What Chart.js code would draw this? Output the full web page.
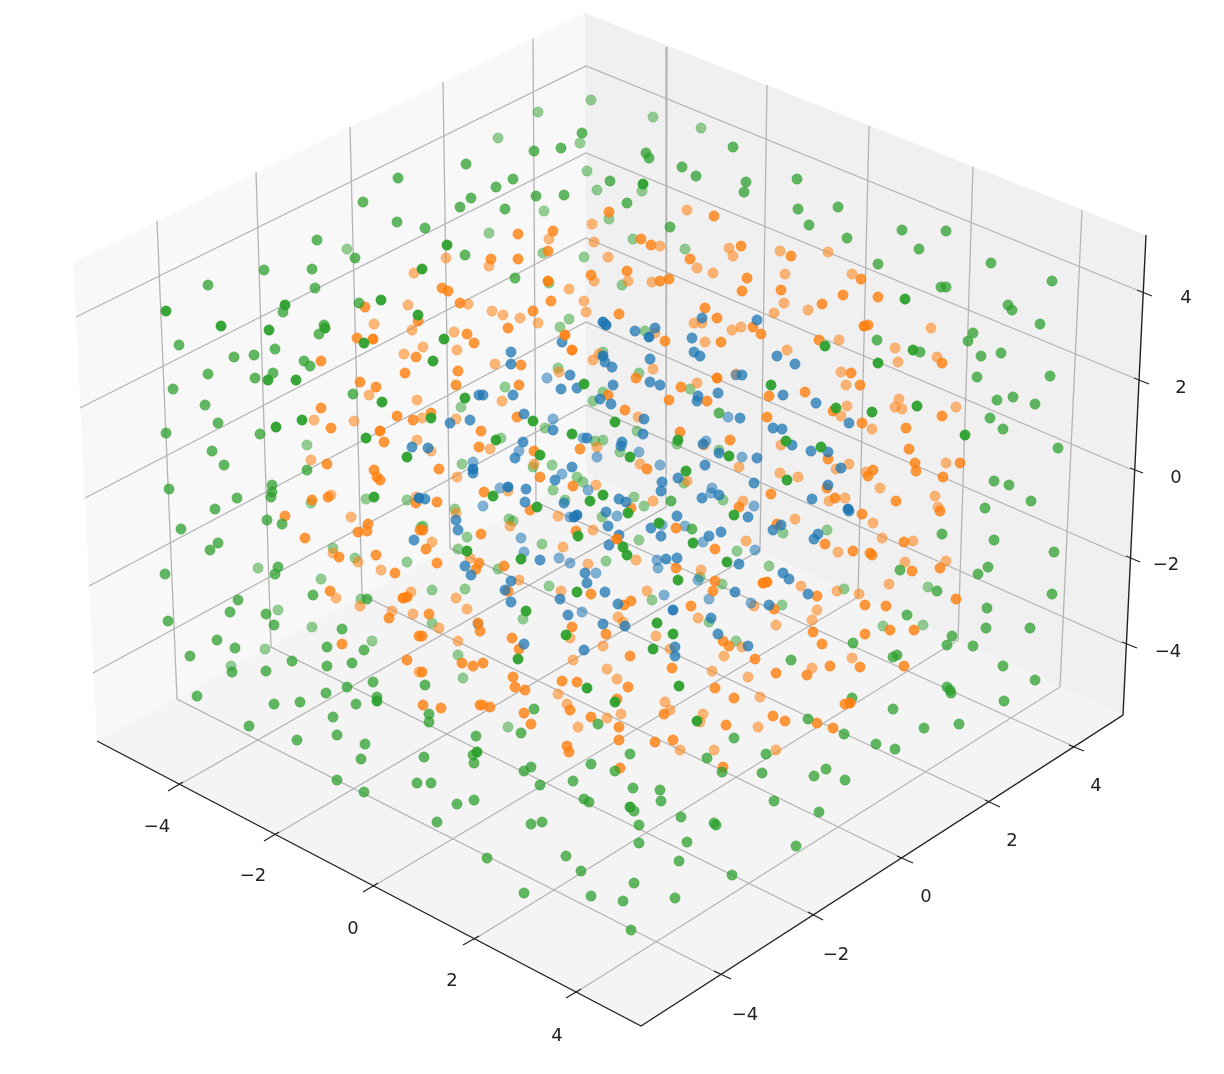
<!DOCTYPE html>
<html><head><meta charset="utf-8">
<style>html,body{margin:0;padding:0;background:#fff}#w{width:1224px;height:1074px;position:relative}</style>
<script src="https://cdn.jsdelivr.net/npm/chart.js@4"></script>
</head><body><div id="w"><canvas id="c" width="1224" height="1074"></canvas></div>
<script>
// Projected (screen-plane) readings of the 3D scatter, grouped by series and depth tier.
const blueFar=[[547,378],[736,375],[500,488],[483,506],[521,538],[524,552],[559,558],[570,563],[596,573],[657,560],[658,568],[698,580],[582,612],[664,595],[709,599],[751,603],[478,624],[553,419],[728,417],[583,438],[639,452],[597,457],[519,451],[473,462],[562,474],[588,490],[660,465],[706,441],[742,457],[712,488],[711,493],[754,506],[617,516],[570,517],[685,526],[662,525],[703,542],[755,550]];
const blueMid=[[635,331],[655,328],[702,318],[692,338],[694,352],[700,356],[757,320],[562,342],[511,352],[511,364],[605,362],[612,367],[650,359],[777,356],[570,375],[742,375],[650,382],[660,385],[561,389],[577,388],[613,385],[718,393],[795,364],[412,447],[414,540],[479,395],[483,395],[513,395],[600,399],[611,404],[698,396],[697,401],[470,420],[450,423],[524,414],[553,430],[644,419],[643,434],[740,418],[587,438],[622,442],[621,446],[523,442],[515,458],[428,448],[473,473],[572,467],[555,480],[662,482],[661,491],[678,478],[705,465],[703,444],[719,453],[757,458],[754,483],[719,495],[702,498],[748,517],[773,428],[773,530],[526,489],[525,502],[425,499],[564,503],[619,499],[626,502],[606,512],[608,526],[456,520],[458,530],[677,516],[651,528],[661,536],[721,532],[709,536],[739,564],[619,535],[609,545],[540,560],[465,566],[471,575],[585,573],[587,583],[605,592],[666,559],[677,558],[511,581],[505,590],[511,602],[560,599],[568,615],[618,604],[735,592],[769,605],[711,618],[718,634],[603,624],[625,626],[748,646],[524,644],[584,650],[675,647],[675,656],[783,395],[816,403],[849,423],[782,429],[792,445],[811,451],[828,452],[841,468],[828,485],[812,499],[849,511],[781,525],[818,534],[814,539],[783,573],[789,579],[808,594]];
const blueNear=[[603,322],[606,325],[649,337],[603,356],[419,498],[473,469],[574,517],[577,515],[673,610],[848,509],[508,487]];
const orangeFar=[[414,273],[408,305],[374,324],[412,330],[404,354],[423,347],[592,224],[549,239],[594,242],[660,246],[687,210],[729,248],[733,256],[780,251],[446,258],[489,266],[608,257],[697,268],[713,273],[594,281],[628,281],[652,282],[569,289],[584,301],[586,312],[468,304],[492,311],[503,315],[520,318],[538,323],[694,323],[702,323],[741,327],[732,330],[774,313],[454,332],[457,350],[655,333],[705,342],[599,354],[593,360],[495,364],[559,372],[653,369],[736,374],[697,383],[828,252],[785,274],[852,274],[784,303],[808,310],[931,328],[839,340],[787,350],[895,348],[937,357],[898,362],[841,372],[846,385],[369,395],[314,420],[354,421],[417,400],[417,440],[311,460],[331,495],[416,497],[351,517],[333,553],[358,562],[381,570],[336,598],[411,592],[360,606],[392,611],[413,614],[419,672],[422,418],[456,419],[502,401],[490,449],[431,451],[457,477],[638,417],[704,445],[597,447],[534,464],[640,464],[596,485],[508,491],[558,516],[653,501],[687,481],[739,467],[780,473],[781,445],[743,501],[456,513],[510,526],[432,542],[593,530],[746,541],[563,547],[636,560],[470,558],[588,564],[701,570],[519,580],[561,591],[647,591],[456,598],[467,609],[439,628],[698,618],[618,617],[623,622],[570,638],[458,641],[603,646],[656,636],[742,647],[776,625],[754,606],[670,649],[573,660],[724,656],[607,669],[712,671],[617,679],[748,677],[847,406],[841,416],[899,399],[895,407],[902,409],[956,407],[872,429],[849,464],[836,469],[946,463],[798,477],[866,472],[880,488],[935,496],[938,507],[845,498],[829,501],[873,523],[795,519],[882,538],[913,541],[838,552],[905,562],[946,561],[889,584],[801,586],[837,591],[859,594],[817,610],[812,620],[852,658],[812,668],[558,694],[483,705],[567,704],[607,718],[621,714],[578,727],[665,702],[670,710],[703,714],[700,722],[758,727],[760,697],[680,750],[714,750],[776,750]];
const orangeMid=[[365,307],[418,321],[357,338],[321,361],[416,357],[405,373],[360,382],[376,387],[609,212],[714,216],[518,234],[553,231],[548,251],[641,239],[651,245],[741,246],[491,259],[518,259],[690,259],[747,278],[591,275],[627,271],[660,281],[669,279],[742,291],[781,290],[442,288],[448,291],[551,301],[460,303],[533,311],[508,328],[619,314],[705,308],[717,318],[753,327],[761,334],[467,334],[474,343],[665,341],[721,342],[521,365],[458,371],[636,378],[681,387],[456,385],[519,385],[791,256],[861,279],[822,304],[843,295],[878,297],[868,325],[819,340],[942,363],[851,373],[860,385],[805,392],[321,408],[331,428],[397,416],[413,420],[384,442],[327,464],[374,470],[377,477],[380,480],[312,500],[328,497],[416,503],[285,516],[368,524],[358,532],[367,531],[305,538],[420,530],[339,557],[376,555],[395,573],[330,591],[389,618],[419,636],[342,644],[407,660],[608,395],[431,413],[517,417],[481,431],[479,447],[439,469],[625,410],[669,400],[707,401],[680,432],[767,417],[730,440],[580,449],[534,451],[540,477],[647,469],[573,486],[484,492],[437,502],[530,510],[631,508],[769,396],[771,494],[739,507],[481,534],[423,530],[426,549],[437,563],[576,531],[676,528],[715,549],[479,563],[476,569],[504,566],[676,568],[715,581],[713,591],[508,591],[591,594],[429,614],[422,636],[631,601],[624,605],[691,606],[572,627],[606,634],[478,623],[480,631],[512,638],[519,649],[723,641],[729,646],[774,609],[777,524],[630,656],[755,659],[462,663],[473,666],[483,663],[422,672],[672,668],[776,673],[513,677],[562,681],[577,682],[515,687],[525,690],[628,687],[715,688],[833,411],[942,416],[862,423],[906,428],[909,449],[828,459],[915,463],[916,471],[960,463],[873,470],[868,476],[943,477],[827,488],[896,501],[940,511],[835,498],[862,514],[904,542],[825,544],[853,551],[870,553],[872,555],[912,571],[940,568],[817,596],[956,599],[865,605],[886,606],[813,632],[865,634],[890,630],[914,630],[822,644],[860,667],[904,666],[830,666],[807,675],[423,705],[441,708],[480,705],[734,698],[490,707],[570,710],[617,699],[664,714],[524,713],[531,724],[591,717],[619,727],[726,725],[773,716],[785,721],[817,723],[833,728],[619,740],[655,742],[673,740],[567,746],[569,752],[620,768],[723,767],[845,704]];
const orangeNear=[[373,339],[548,281],[565,335],[572,350],[717,378],[864,326],[380,431],[407,597],[403,598],[617,539],[767,582],[763,583],[850,703]];
const greenFar=[[347,249],[591,100],[538,112],[653,117],[701,128],[498,138],[580,143],[587,171],[597,190],[642,191],[544,211],[609,219],[489,233],[543,253],[633,239],[685,249],[584,257],[622,285],[549,283],[569,319],[560,327],[645,331],[558,368],[505,387],[639,373],[603,352],[690,389],[603,392],[307,445],[311,503],[366,499],[407,500],[333,548],[355,558],[407,562],[258,568],[321,579],[361,599],[278,610],[312,627],[372,641],[265,649],[231,666],[421,527],[461,407],[545,428],[637,431],[677,444],[719,450],[595,441],[603,440],[620,452],[501,438],[533,467],[552,465],[462,464],[577,477],[583,482],[593,401],[553,490],[634,497],[644,506],[565,500],[455,509],[423,526],[602,517],[509,519],[513,521],[684,483],[723,500],[467,537],[542,544],[639,540],[458,549],[606,561],[737,551],[498,569],[769,566],[700,577],[722,584],[432,590],[465,589],[549,586],[652,600],[523,619],[432,623],[709,622],[736,641],[458,655],[463,678],[827,530],[783,533],[844,589],[782,605],[923,625],[883,626],[508,727],[928,587]];
const greenMid=[[398,178],[363,202],[397,222],[317,240],[355,258],[264,270],[312,269],[208,285],[315,288],[359,303],[283,312],[324,325],[319,334],[179,345],[275,349],[254,355],[234,357],[304,361],[310,366],[208,374],[273,373],[255,378],[173,389],[353,394],[582,133],[534,151],[561,148],[733,147],[646,153],[649,158],[466,164],[682,167],[696,176],[513,179],[496,187],[610,181],[746,182],[744,192],[471,198],[460,207],[536,196],[564,195],[505,209],[627,203],[425,228],[670,227],[465,255],[515,278],[797,179],[798,209],[838,207],[809,225],[847,238],[902,230],[946,231],[919,249],[878,264],[991,263],[1052,281],[941,287],[946,287],[1008,305],[1012,310],[1040,324],[973,333],[968,341],[877,340],[920,352],[981,356],[1001,353],[977,377],[1050,376],[205,405],[218,423],[166,433],[260,434],[212,451],[224,465],[307,470],[169,489],[272,485],[272,492],[271,497],[237,498],[215,509],[181,529],[267,520],[282,524],[218,543],[210,550],[165,574],[278,567],[275,574],[313,595],[238,600],[367,599],[230,612],[266,614],[168,621],[274,625],[342,629],[217,640],[235,648],[327,647],[364,650],[190,656],[292,661],[232,672],[266,671],[327,666],[352,663],[373,682],[347,687],[326,693],[719,413],[671,501],[692,529],[425,685],[997,400],[1013,397],[1035,404],[990,418],[1003,429],[1058,448],[994,481],[1009,485],[1031,501],[985,508],[942,534],[994,540],[1054,552],[988,567],[978,574],[900,570],[1052,594],[937,591],[987,608],[907,615],[986,628],[1030,628],[952,636],[947,645],[973,646],[853,643],[897,655],[893,657],[791,660],[1003,666],[1035,680],[947,687],[950,690],[197,696],[274,704],[300,702],[356,704],[377,697],[249,726],[333,717],[429,714],[429,722],[297,740],[337,735],[365,744],[361,759],[424,757],[476,736],[473,755],[474,763],[337,780],[364,792],[417,783],[431,783],[457,804],[474,800],[437,822],[534,709],[521,733],[598,724],[808,719],[734,738],[630,754],[766,754],[707,758],[591,764],[531,767],[524,771],[615,771],[722,772],[762,773],[826,769],[814,776],[540,785],[573,781],[633,788],[660,790],[661,801],[584,799],[589,802],[774,801],[819,812],[634,811],[681,817],[714,823],[716,825],[639,825],[531,824],[542,822],[639,843],[687,842],[796,846],[487,858],[566,856],[679,861],[581,871],[732,875],[634,883],[524,893],[591,896],[623,901],[675,898],[631,930],[852,698],[893,709],[951,693],[1004,701],[924,728],[959,724],[844,734],[876,744],[895,749],[845,780]];
const greenNear=[[381,300],[285,305],[166,311],[221,326],[269,330],[325,328],[364,343],[268,380],[296,380],[422,269],[418,315],[643,184],[447,245],[444,339],[433,361],[771,385],[584,384],[905,299],[913,350],[825,346],[878,363],[276,427],[302,420],[382,402],[366,438],[407,457],[374,497],[465,398],[431,418],[533,421],[572,434],[615,422],[678,440],[729,456],[630,457],[496,440],[540,455],[603,495],[590,501],[493,496],[537,507],[628,513],[686,471],[734,515],[659,523],[693,543],[578,536],[623,547],[627,555],[467,551],[521,559],[727,562],[678,580],[577,592],[526,611],[657,623],[673,634],[566,635],[653,649],[518,659],[587,688],[679,686],[965,435],[917,406],[872,412],[836,408],[786,441],[821,447],[787,480],[377,701],[477,752],[615,702],[697,721],[630,807]];

const xTickLabels=["−4","−2","0","2","4"];
const yTickLabels=["−4","−2","0","2","4"];
const zTickLabels=["−4","−2","0","2","4"];
const xLabelAt=[[157,827],[253,876],[353,929],[452,981],[557,1036]];
const yLabelAt=[[745,1015],[836,955],[926,897],[1012,841],[1096,786]];
const zLabelAt=[[1168,652],[1166,565],[1176,478],[1181,388],[1186,298]];

// Box geometry in the same screen plane
const leftWall=[[73,262],[585,13],[586,473],[97,741]];
const rightWall=[[585,13],[1146,235],[1123,715],[586,473]];
const floorPane=[[97,741],[586,473],[1123,715],[641,1026]];
const axisEdges=[[[97,741],[641,1026],[1123,715],[1146,235]]];
const gridLines=[
 [[157,221],[177,699],[720,974]],[[256,172],[271,647],[813,915]],[[350,127],[362,595],[902,858]],[[443,82],[450,548],[990,802]],[[533,39],[536,502],[1075,747]],
 [[667,47],[666,507],[177,786]],[[767,85],[760,550],[273,836]],[[869,126],[858,597],[372,887]],[[973,167],[958,640],[473,940]],[[1082,210],[1060,687],[575,993]],
 [[76,317],[586,66],[1137,290]],[[80,408],[586,153],[1134,378]],[[85,498],[586,238],[1130,469]],[[89,586],[586,322],[1126,557]],[[93,673],[586,405],[1122,643]]
];
const tickMarks=[
 [[168,791],[183,782]],[[264,841],[279,832]],[[363,892],[378,883]],[[463,945],[479,936]],[[566,998],[581,989]],
 [[714,971],[731,979]],[[808,912],[823,920]],[[897,856],[913,863]],[[985,800],[1000,807]],[[1069,745],[1084,751]],
 [[1137,290],[1152,296]],[[1134,378],[1149,384]],[[1130,468],[1143,473]],[[1126,556],[1140,562]],[[1122,642],[1137,648]]
];

const toXY=a=>a.map(p=>({x:p[0],y:p[1]}));
const C={b:'31,119,180',o:'255,127,14',g:'44,160,44'};
const draw=[];
gridLines.forEach(l=>draw.push({data:toXY(l),showLine:true,pointRadius:0,borderColor:'#b4b4b4',borderWidth:1.3,fill:false}));
axisEdges.forEach(l=>draw.push({data:toXY(l),showLine:true,pointRadius:0,borderColor:'#222',borderWidth:1.4,fill:false}));
tickMarks.forEach(l=>draw.push({data:toXY(l),showLine:true,pointRadius:0,borderColor:'#222',borderWidth:1.2,fill:false}));
const tier=(arr,col,a)=>draw.push({data:toXY(arr),showLine:false,pointRadius:5.2,pointHoverRadius:5.2,backgroundColor:`rgba(${col},${a})`,borderColor:`rgba(${col},${a*0.55})`,borderWidth:0.8});
tier(greenFar,C.g,.5);tier(orangeFar,C.o,.55);tier(blueFar,C.b,.55);
tier(orangeMid,C.o,.8);tier(blueMid,C.b,.76);tier(greenMid,C.g,.74);
tier(blueNear,C.b,.92);tier(orangeNear,C.o,.92);tier(greenNear,C.g,.95);
draw.forEach((d,i)=>{d.order=draw.length-i;});

const panes={id:'panes',beforeDatasetsDraw(ch){
  const {ctx,scales:{x,y}}=ch;
  [[leftWall,'#f8f8f8'],[rightWall,'#f0f0f0'],[floorPane,'#f4f4f4']].forEach(([poly,col])=>{
    ctx.beginPath();poly.forEach((p,i)=>{const X=x.getPixelForValue(p[0]),Y=y.getPixelForValue(p[1]);i?ctx.lineTo(X,Y):ctx.moveTo(X,Y);});
    ctx.closePath();ctx.fillStyle=col;ctx.fill();
  });
},afterDatasetsDraw(ch){
  const {ctx,scales:{x,y}}=ch;
  ctx.save();ctx.font='18px "DejaVu Sans"';ctx.fillStyle='#222';ctx.textAlign='center';ctx.textBaseline='middle';
  [[xTickLabels,xLabelAt],[yTickLabels,yLabelAt],[zTickLabels,zLabelAt]].forEach(([t,pos])=>t.forEach((s,i)=>ctx.fillText(s,x.getPixelForValue(pos[i][0]),y.getPixelForValue(pos[i][1]))));
  ctx.restore();
}};
new Chart(document.getElementById('c'),{type:'scatter',data:{datasets:draw},plugins:[panes],options:{
 responsive:false,animation:false,events:[],layout:{padding:0,autoPadding:false},
 plugins:{legend:{display:false},tooltip:{enabled:false}},
 scales:{x:{type:'linear',min:0,max:1224,display:false},y:{type:'linear',min:0,max:1074,reverse:true,display:false}}
}});
</script></body></html>
